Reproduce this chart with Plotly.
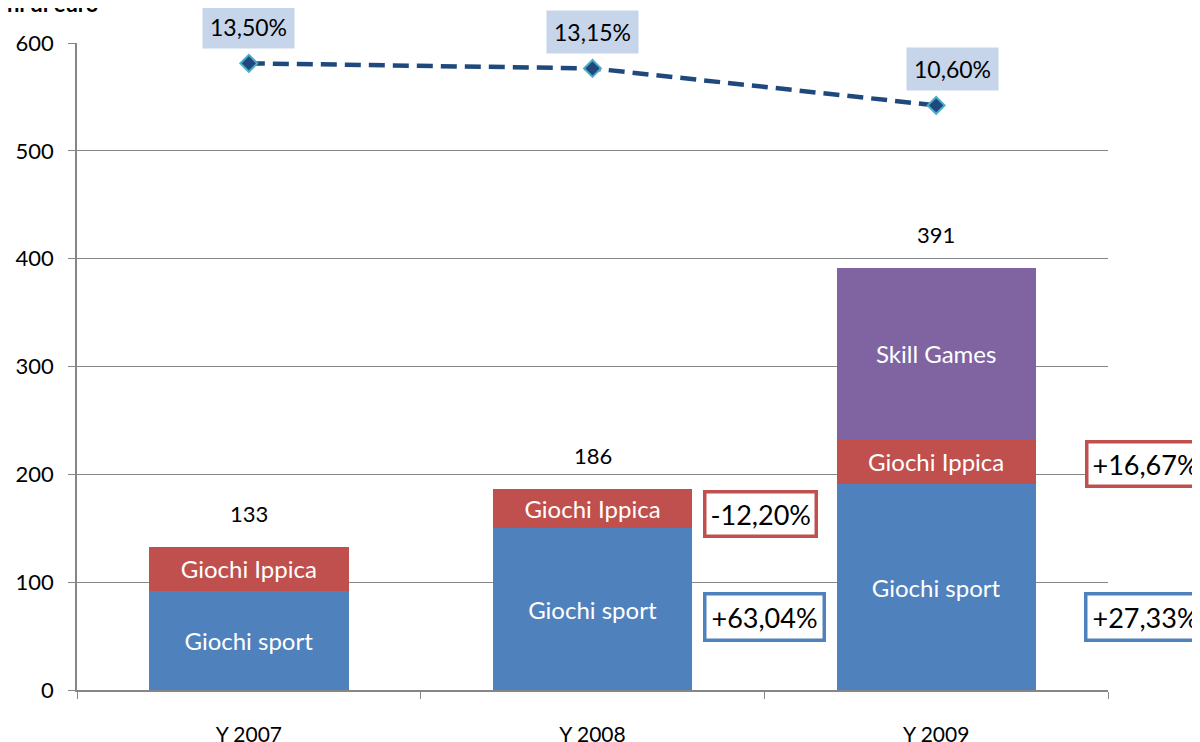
import plotly.graph_objects as go

# data (milioni di euro)
years = ["Y 2007", "Y 2008", "Y 2009"]
giochi_sport = [92, 150, 191]
giochi_ippica = [41, 36, 42]
skill_games = [None, None, 158]
totals = [133, 186, 391]

payout = [13.50, 13.15, 10.60]
payout_labels = ["13,50%", "13,15%", "10,60%"]

sport_growth = [None, "+63,04%", "+27,33%"]
ippica_growth = [None, "-12,20%", "+16,67%"]

FONT = "Lato"
GRID = "#868686"
BLUE = "#4F81BD"
RED = "#C0504D"
PURPLE = "#8064A2"
NAVY = "#1F497D"

fig = go.Figure()

def seg_text(vals, label):
    return [label if v else "" for v in vals]

for name, vals, color in [("Giochi sport", giochi_sport, BLUE),
                          ("Giochi Ippica", giochi_ippica, RED),
                          ("Skill Games", skill_games, PURPLE)]:
    fig.add_trace(go.Bar(
        x=years, y=vals, name=name,
        marker=dict(color=color, line=dict(width=0)),
        text=seg_text(vals, name),
        textposition="inside", insidetextanchor="middle",
        textangle=0, constraintext="none",
        textfont=dict(family=FONT, size=24, color="white"),
        hoverinfo="skip",
    ))

fig.add_trace(go.Scatter(
    x=years, y=payout, yaxis="y2", mode="lines+markers",
    line=dict(color=NAVY, width=4.5, dash="16px,8px"),
    marker=dict(symbol="diamond", size=13, color=NAVY,
                line=dict(color="#4BACC6", width=2)),
    hoverinfo="skip",
))

annotations = []
for yr, t in zip(years, totals):
    annotations.append(dict(x=yr, y=t, text=str(t), showarrow=False,
                            yanchor="bottom", yshift=18,
                            font=dict(family=FONT, size=22, color="black")))
for i, (yr, v, lab) in enumerate(zip(years, payout, payout_labels)):
    annotations.append(dict(x=yr, y=v, yref="y2", text=lab, showarrow=False,
                            yanchor="bottom", yshift=14,
                            xshift=16 if i == 2 else 0,
                            bgcolor="#C6D5EA", borderpad=7,
                            font=dict(family=FONT, size=23, color="black")))

# growth boxes sit right of each bar (x in paper units, category slots)
n = len(years)
for i, (sg, ig) in enumerate(zip(sport_growth, ippica_growth)):
    if sg is None:
        continue
    slot = 1.5 if i == 1 else 2.61
    xp = (slot + 0.5) / n
    annotations.append(dict(x=xp, xref="paper", xanchor="center",
                            y=68, text=sg, showarrow=False,
                            bgcolor="white", bordercolor=BLUE, borderwidth=3.5,
                            borderpad=5,
                            font=dict(family=FONT, size=27, color="black")))
    annotations.append(dict(x=xp - (0.01 if i == 1 else 0) / n, xref="paper",
                            xanchor="center",
                            y=giochi_sport[i] + giochi_ippica[i] / 2 - (5 if i == 1 else 2),
                            text=ig, showarrow=False,
                            bgcolor="white", bordercolor=RED, borderwidth=3.5,
                            borderpad=4,
                            font=dict(family=FONT, size=27, color="black")))

annotations.append(dict(x=0.0223, y=1.037, xref="paper", yref="paper",
                        xanchor="right", yanchor="bottom", showarrow=False,
                        text="<b>Milioni di euro</b>",
                        font=dict(family=FONT, size=22, color="black")))

fig.update_layout(
    width=1200, height=742,
    margin=dict(l=69, r=100, t=35, b=60),
    barmode="stack", bargap=0.42,
    showlegend=False,
    plot_bgcolor="white", paper_bgcolor="white",
    font=dict(family=FONT, size=22, color="black"),
    annotations=annotations,
    xaxis=dict(type="category", range=[-0.5, 2.5], tickson="boundaries",
               ticks="outside", ticklen=7, tickcolor=GRID, showline=True,
               linecolor=GRID, linewidth=1.5, showgrid=False,
               ticklabelstandoff=25, automargin=False,
               tickfont=dict(family=FONT, size=21)),
    yaxis=dict(range=[0, 600], dtick=100, ticks="outside", ticklen=7,
               tickcolor=GRID, showline=True, linecolor=GRID, linewidth=1.5,
               gridcolor=GRID, gridwidth=1.2, zeroline=False, automargin=False,
               ticklabelstandoff=10, tickfont=dict(family=FONT, size=22)),
    yaxis2=dict(overlaying="y", range=[-29.7, 14.9], visible=False),
)

fig.write_html("out.html")
